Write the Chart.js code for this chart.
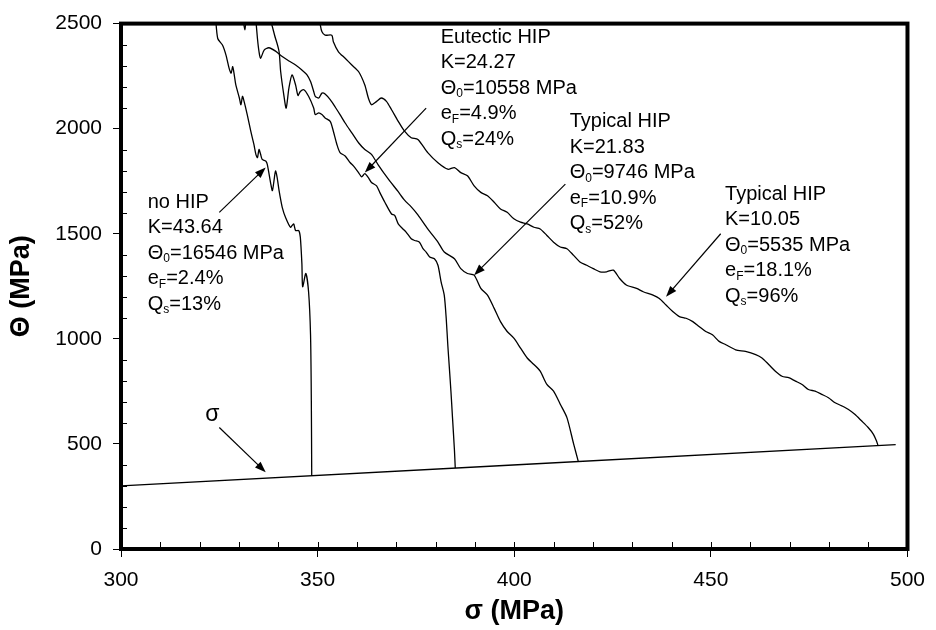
<!DOCTYPE html>
<html>
<head>
<meta charset="utf-8">
<script src="https://cdn.jsdelivr.net/npm/chart.js@4.4.0/dist/chart.umd.min.js"></script>
<style>
  html, body { margin: 0; padding: 0; background: #fff; }
  #chartCanvas { display: block; }
</style>
</head>
<body>
<canvas id="chartCanvas" width="936" height="630"></canvas>
<script>
// ------- data: sigma (MPa) on x, Theta (MPa) on y
const noHipSigma = [324.0, 324.6, 325.8, 326.7, 327.5, 328.0, 328.4, 328.8, 329.2, 330.1, 330.5, 330.9, 331.3, 332.1, 333.0, 333.8, 334.3, 334.7, 335.1, 335.5, 335.9, 336.8, 337.2, 338.1, 338.5, 338.9, 339.3, 339.7, 340.2, 341.0, 341.9, 343.1, 343.9, 344.4, 345.2, 345.6, 346.0, 346.2, 347.0, 347.7, 348.2, 348.4, 348.5];
const noHipTheta = [2540, 2429, 2398, 2350, 2287, 2264, 2295, 2256, 2208, 2146, 2114, 2154, 2130, 2067, 1988, 1925, 1878, 1862, 1901, 1878, 1854, 1846, 1830, 1736, 1705, 1752, 1799, 1768, 1705, 1626, 1575, 1531, 1547, 1515, 1515, 1484, 1358, 1248, 1311, 1224, 1019, 704, 348];

const eutecticSigma = [330.8, 331.5, 332.3, 336.9, 339.3, 340.2, 340.6, 341.4, 342.0, 342.7, 343.5, 344.4, 345.0, 345.6, 346.5, 347.7, 349.0, 349.4, 350.3, 351.1, 351.9, 353.2, 354.0, 354.9, 355.7, 357.0, 358.3, 359.1, 360.4, 361.2, 362.0, 362.9, 363.7, 365.0, 365.8, 367.1, 368.8, 369.6, 370.5, 371.7, 372.5, 373.8, 374.7, 375.9, 376.8, 377.6, 378.5, 379.7, 380.6, 381.4, 382.2, 382.7, 383.1, 383.5, 383.9, 384.3, 384.8, 385.0];
const eutecticTheta = [2560, 2470, 2560, 2560, 2429, 2366, 2272, 2161, 2098, 2193, 2256, 2208, 2158, 2177, 2185, 2154, 2098, 2067, 2075, 2067, 2051, 2035, 1988, 1925, 1886, 1870, 1838, 1823, 1791, 1771, 1786, 1767, 1744, 1728, 1697, 1650, 1594, 1587, 1547, 1523, 1508, 1476, 1468, 1460, 1429, 1413, 1389, 1381, 1350, 1271, 1208, 1098, 972, 862, 751, 625, 468, 385];

const typical21Sigma = [334.2, 334.7, 335.1, 335.5, 336.4, 337.6, 339.3, 341.0, 342.7, 344.4, 346.0, 347.3, 348.2, 349.0, 349.4, 350.3, 351.1, 351.9, 353.2, 354.5, 355.7, 357.0, 358.7, 360.4, 362.0, 363.7, 365.4, 367.9, 370.5, 372.1, 373.8, 375.5, 378.0, 380.6, 382.2, 384.8, 386.4, 388.1, 389.8, 391.5, 393.2, 394.9, 396.5, 398.2, 399.9, 401.6, 403.3, 405.0, 406.6, 408.3, 410.0, 411.7, 413.4, 415.1, 416.3];
const typical21Theta = [2540, 2429, 2366, 2335, 2374, 2385, 2369, 2343, 2322, 2303, 2279, 2256, 2224, 2177, 2154, 2146, 2169, 2165, 2138, 2102, 2067, 2027, 1980, 1933, 1901, 1878, 1828, 1762, 1700, 1660, 1628, 1590, 1523, 1460, 1413, 1381, 1334, 1311, 1303, 1240, 1208, 1145, 1082, 1035, 1003, 956, 909, 878, 846, 783, 751, 689, 625, 500, 416];

const typical10Sigma = [350.4, 350.7, 351.1, 351.9, 353.6, 354.0, 355.3, 357.0, 358.7, 360.4, 362.0, 362.9, 363.7, 365.0, 366.2, 367.5, 368.8, 370.5, 372.1, 373.8, 375.5, 378.0, 380.6, 383.1, 384.8, 386.4, 388.1, 389.8, 391.5, 393.2, 394.9, 396.5, 398.2, 399.9, 401.6, 403.3, 405.0, 406.6, 408.3, 410.0, 411.7, 413.4, 415.1, 416.7, 418.4, 420.1, 421.8, 423.5, 425.2, 426.8, 428.5, 431.1, 432.8, 435.3, 436.9, 438.6, 440.3, 442.0, 443.7, 445.4, 447.0, 448.7, 450.4, 452.1, 453.8, 456.3, 458.8, 461.4, 463.0, 464.7, 466.4, 468.1, 469.8, 471.5, 473.2, 474.8, 476.5, 478.2, 479.9, 481.6, 483.3, 484.9, 486.6, 488.3, 490.0, 491.3, 492.1, 492.5];
const typical10Theta = [2540, 2492, 2461, 2445, 2445, 2414, 2366, 2335, 2303, 2272, 2208, 2146, 2114, 2130, 2146, 2130, 2090, 2035, 1988, 1957, 1949, 1886, 1838, 1807, 1815, 1791, 1776, 1728, 1697, 1681, 1650, 1618, 1602, 1571, 1555, 1547, 1531, 1523, 1492, 1460, 1437, 1429, 1397, 1366, 1350, 1334, 1319, 1319, 1327, 1287, 1256, 1240, 1224, 1208, 1192, 1161, 1130, 1106, 1098, 1082, 1059, 1035, 1019, 988, 972, 948, 940, 925, 909, 878, 846, 822, 815, 799, 783, 759, 751, 736, 720, 696, 681, 665, 641, 610, 578, 547, 515, 493];

// Theta = sigma reference line
const sigmaLineX = [300, 497];
const sigmaLineY = [300, 497];

// axis ranges / ticks
const xMin = 300, xMax = 500, xStep = 50, xMinor = 10;
const yMin = 0, yMax = 2500, yStep = 500, yMinor = 100;

// annotation text blocks (anchor = left edge, first line centre, in data units)
const labelAnchorsX = [306.8, 381.3, 414.1, 453.6];
const labelAnchorsY = [1649, 2434, 2032, 1687];
const labelLines = [
  ["no HIP", "K=43.64", "Θ_{0}=16546 MPa", "e_{F}=2.4%", "Q_{s}=13%"],
  ["Eutectic HIP", "K=24.27", "Θ_{0}=10558 MPa", "e_{F}=4.9%", "Q_{s}=24%"],
  ["Typical HIP", "K=21.83", "Θ_{0}=9746 MPa", "e_{F}=10.9%", "Q_{s}=52%"],
  ["Typical HIP", "K=10.05", "Θ_{0}=5535 MPa", "e_{F}=18.1%", "Q_{s}=96%"]
];
// arrows: start -> tip, data units
const arrowFromX = [325.0, 325.0, 377.6, 413.0, 452.5];
const arrowFromY = [578, 1602, 2098, 1736, 1500];
const arrowToX = [336.8, 336.8, 362.0, 389.8, 438.6];
const arrowToY = [365, 1815, 1791, 1303, 1200];
const sigmaLabel = { text: "σ", x: 323.2, y: 641 };

const FONT = "'Liberation Sans', Arial, Helvetica, sans-serif";

function pts(xs, ys) { return xs.map((v, i) => ({ x: v, y: ys[i] })); }

function lineSet(xs, ys) {
  return {
    data: pts(xs, ys),
    showLine: true,
    borderColor: '#000',
    borderWidth: 1.3,
    pointRadius: 0,
    tension: 0.25,
    fill: false
  };
}

// frame, inner minor ticks
const framePlugin = {
  id: 'frame',
  afterDatasetsDraw(chart) {
    const { ctx, chartArea: a, scales: { x, y } } = chart;
    ctx.save();
    ctx.strokeStyle = '#000';
    ctx.lineWidth = 1;
    ctx.beginPath();
    for (let v = xMin; v <= xMax; v += xMinor) {
      const px = Math.round(x.getPixelForValue(v)) + 0.5;
      ctx.moveTo(px, a.bottom);
      ctx.lineTo(px, a.bottom - 7);
    }
    for (let v = yMin + yMinor; v < yMax; v += yMinor) {
      if (v % yStep === 0) continue;
      const py = Math.round(y.getPixelForValue(v)) + 0.5;
      ctx.moveTo(a.left, py);
      ctx.lineTo(a.left + 6, py);
    }
    ctx.stroke();
    ctx.lineWidth = 4;
    ctx.strokeRect(a.left, a.top, a.right - a.left, a.bottom - a.top);
    ctx.restore();
  }
};

// text with _{sub} markup
function drawRich(ctx, str, x, y, size) {
  const parts = str.split(/(_\{[^}]*\})/).filter(s => s.length);
  let cx = x;
  parts.forEach(p => {
    const sub = p.startsWith('_{');
    const txt = sub ? p.slice(2, -1) : p;
    ctx.font = (sub ? Math.round(size * 0.62) : size) + 'px ' + FONT;
    ctx.fillText(txt, cx, sub ? y + size * 0.28 : y);
    cx += ctx.measureText(txt).width;
  });
}

function drawArrow(ctx, x1, y1, x2, y2) {
  const ang = Math.atan2(y2 - y1, x2 - x1);
  const L = 11, W = 4;
  ctx.beginPath();
  ctx.moveTo(x1, y1);
  ctx.lineTo(x2 - L * 0.8 * Math.cos(ang), y2 - L * 0.8 * Math.sin(ang));
  ctx.stroke();
  ctx.beginPath();
  ctx.moveTo(x2, y2);
  ctx.lineTo(x2 - L * Math.cos(ang) + W * Math.sin(ang), y2 - L * Math.sin(ang) - W * Math.cos(ang));
  ctx.lineTo(x2 - L * Math.cos(ang) - W * Math.sin(ang), y2 - L * Math.sin(ang) + W * Math.cos(ang));
  ctx.closePath();
  ctx.fill();
}

const notesPlugin = {
  id: 'notes',
  afterDraw(chart) {
    const { ctx, chartArea: a, scales: { x, y } } = chart;
    ctx.save();
    ctx.fillStyle = '#000';
    ctx.strokeStyle = '#000';
    ctx.lineWidth = 1.2;
    ctx.textBaseline = 'middle';
    ctx.textAlign = 'left';
    labelLines.forEach((lines, i) => {
      const lx = x.getPixelForValue(labelAnchorsX[i]);
      const ly = y.getPixelForValue(labelAnchorsY[i]);
      lines.forEach((ln, j) => drawRich(ctx, ln, lx, ly + j * 25.5, 20));
    });
    arrowFromX.forEach((v, i) => {
      drawArrow(ctx, x.getPixelForValue(v), y.getPixelForValue(arrowFromY[i]),
        x.getPixelForValue(arrowToX[i]), y.getPixelForValue(arrowToY[i]));
    });
    ctx.textAlign = 'center';
    ctx.font = '23px ' + FONT;
    ctx.fillText(sigmaLabel.text, x.getPixelForValue(sigmaLabel.x), y.getPixelForValue(sigmaLabel.y));

    // axis titles
    ctx.font = 'bold 27px ' + FONT;
    ctx.fillText('σ (MPa)', (a.left + a.right) / 2, 612);
    ctx.translate(22, (a.top + a.bottom) / 2);
    ctx.rotate(-Math.PI / 2);
    ctx.fillText('Θ (MPa)', 0, 0);
    ctx.restore();
  }
};

const tickLabel = v => String(v);

const chart = new Chart(document.getElementById('chartCanvas'), {
  type: 'scatter',
  data: {
    datasets: [
      lineSet(sigmaLineX, sigmaLineY),
      lineSet(noHipSigma, noHipTheta),
      lineSet(eutecticSigma, eutecticTheta),
      lineSet(typical21Sigma, typical21Theta),
      lineSet(typical10Sigma, typical10Theta)
    ]
  },
  options: {
    responsive: false,
    animation: false,
    events: [],
    layout: { padding: { top: 20, right: 23, left: 0, bottom: 0 } },
    plugins: { legend: { display: false }, tooltip: { enabled: false } },
    scales: {
      x: {
        type: 'linear', min: xMin, max: xMax,
        afterFit(s) { s.height = 81; },
        ticks: { stepSize: xStep, color: '#000', font: { family: FONT, size: 21 }, padding: 11, maxRotation: 0, callback: tickLabel },
        grid: { drawOnChartArea: false, tickLength: 8, color: '#000', lineWidth: 1 },
        border: { display: false }
      },
      y: {
        type: 'linear', min: yMin, max: yMax,
        afterFit(s) { s.width = 121; },
        ticks: { stepSize: yStep, color: '#000', font: { family: FONT, size: 21 }, padding: 11, callback: tickLabel },
        grid: { drawOnChartArea: false, tickLength: 8, color: '#000', lineWidth: 1 },
        border: { display: false }
      }
    }
  },
  plugins: [framePlugin, notesPlugin]
});
</script>
</body>
</html>
